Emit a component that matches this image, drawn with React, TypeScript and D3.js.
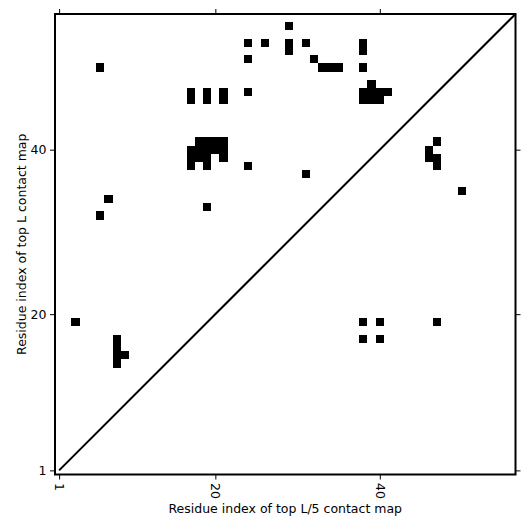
import React, { useEffect, useRef } from 'react';
import * as d3 from 'd3';

const width = 531;
const height = 531;

// plot frame in pixels
const margin = { top: 14, right: 15.5, bottom: 56.5, left: 55 };

const seqLength = 56;
const tickValues = [1, 20, 40];

// top L contacts (upper triangle), [residue i, residue j]
const topLContacts: [number, number][] = [
  [6, 50],
  [17, 46], [17, 47], [19, 46], [19, 47], [21, 46], [21, 47], [24, 47],
  [29, 55],
  [24, 53], [26, 53], [29, 53], [29, 52], [31, 53],
  [24, 51], [32, 51],
  [33, 50], [34, 50], [35, 50],
  [38, 53], [38, 52], [38, 50],
  [39, 48],
  [38, 47], [39, 47], [40, 47], [41, 47],
  [38, 46], [39, 46], [40, 46],
  [18, 41], [19, 41], [20, 41], [21, 41],
  [17, 40], [18, 40], [19, 40], [20, 40], [21, 40],
  [17, 39], [18, 39], [19, 39], [21, 39],
  [17, 38], [19, 38],
  [24, 38], [31, 37], [19, 33], [7, 34], [6, 32],
  [3, 19],
  [8, 14], [8, 15], [8, 16], [8, 17], [9, 15]
];

// top L/5 contacts (lower triangle)
const topL5Contacts: [number, number][] = [
  [38, 19], [40, 19], [38, 17], [40, 17], [47, 19],
  [47, 41], [46, 40], [46, 39], [47, 39], [47, 38],
  [50, 35]
];

const xLabel = 'Residue index of top L/5 contact map';
const yLabel = 'Residue index of top L contact map';

const App = () => {
  const xAxisRef = useRef(null);
  const yAxisRef = useRef(null);
  const topAxisRef = useRef(null);
  const rightAxisRef = useRef(null);

  const x0 = margin.left;
  const x1 = width - margin.right;
  const y0 = margin.top;
  const y1 = height - margin.bottom;

  const xScale = d3.scaleLinear().domain([0.5, seqLength + 0.5]).range([x0, x1]);
  const yScale = d3.scaleLinear().domain([0.5, seqLength + 0.5]).range([y1, y0]);

  useEffect(() => {
    const font = 'DejaVu Sans';

    const bottom = d3.select(xAxisRef.current);
    bottom.call(d3.axisBottom(xScale).tickValues(tickValues).tickSize(5).tickPadding(3.5) as any);
    bottom.select('.domain').remove();
    bottom.selectAll('text')
      .attr('y', 0)
      .attr('x', 8.5)
      .attr('dy', '0.35em')
      .attr('transform', 'rotate(90)')
      .style('text-anchor', 'start');

    const left = d3.select(yAxisRef.current);
    left.call(d3.axisLeft(yScale).tickValues(tickValues).tickSize(5).tickPadding(3.5) as any);
    left.select('.domain').remove();

    const top = d3.select(topAxisRef.current);
    top.call(d3.axisTop(xScale).tickValues(tickValues).tickSize(5).tickFormat(() => '') as any);
    top.select('.domain').remove();

    const right = d3.select(rightAxisRef.current);
    right.call(d3.axisRight(yScale).tickValues(tickValues).tickSize(5).tickFormat(() => '') as any);
    right.select('.domain').remove();

    [bottom, left, top, right].forEach(g => {
      g.attr('font-family', font).attr('font-size', 12.5);
      g.selectAll('text').attr('fill', '#000');
      g.selectAll('line').attr('stroke', '#000').attr('stroke-width', 1);
    });
  });

  const cell = (d: [number, number], k: string) => (
    <rect
      key={k}
      x={xScale(d[0] - 0.5)}
      y={yScale(d[1] + 0.5)}
      width={xScale(d[0] + 0.5) - xScale(d[0] - 0.5)}
      height={yScale(d[1] - 0.5) - yScale(d[1] + 0.5)}
      fill="#000"
      shapeRendering="crispEdges"
    />
  );

  return (
    <svg
      width={width}
      height={height}
      style={{ position: 'absolute', left: 0, top: 0, background: '#fff' }}
    >
      <defs>
        <clipPath id="plot-clip">
          <rect x={x0} y={y0} width={x1 - x0} height={y1 - y0} />
        </clipPath>
      </defs>
      <g clipPath="url(#plot-clip)">
        {topLContacts.map((d, i) => cell(d, 'l' + i))}
        {topL5Contacts.map((d, i) => cell(d, 'f' + i))}
        <line
          x1={xScale(1)}
          y1={yScale(1)}
          x2={xScale(seqLength + 1)}
          y2={yScale(seqLength + 1)}
          stroke="#000"
          strokeWidth={2}
        />
      </g>
      <rect x={x0} y={y0} width={x1 - x0} height={y1 - y0} fill="none" stroke="#000" strokeWidth={2} />
      <g ref={xAxisRef} transform={`translate(0, ${y1})`} />
      <g ref={yAxisRef} transform={`translate(${x0}, 0)`} />
      <g ref={topAxisRef} transform={`translate(0, ${y0})`} />
      <g ref={rightAxisRef} transform={`translate(${x1}, 0)`} />
      <text
        x={(x0 + x1) / 2}
        y={513}
        textAnchor="middle"
        fontFamily="DejaVu Sans"
        fontSize={12.5}
      >
        {xLabel}
      </text>
      <text
        transform={`translate(25.5, ${(y0 + y1) / 2}) rotate(-90)`}
        textAnchor="middle"
        fontFamily="DejaVu Sans"
        fontSize={12.5}
      >
        {yLabel}
      </text>
    </svg>
  );
};

export default App;
